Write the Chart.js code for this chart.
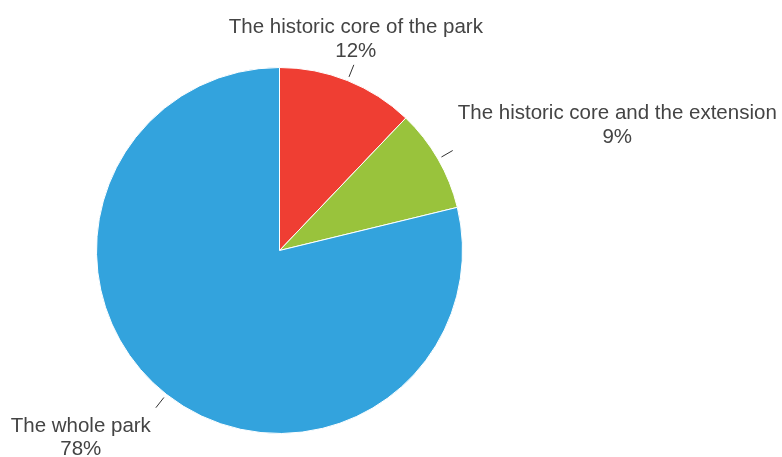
<!DOCTYPE html>
<html>
<head>
<meta charset="utf-8">
<script src="https://cdn.jsdelivr.net/npm/chart.js@4/dist/chart.umd.min.js"></script>
<style>
  html, body { margin: 0; padding: 0; background: #fff; }
  #wrap { width: 782px; height: 457px; }
</style>
</head>
<body>
<div id="wrap"><canvas id="pieChart" width="782" height="457"></canvas></div>
<script>
// Share of respondents by area visited
const areaLabels = [
  "The historic core of the park",
  "The historic core and the extension",
  "The whole park",
];
const areaShares = [12, 9, 78];
const areaColors = ["#ef3e33", "#99c33c", "#33a3dd"];

const labelFont = '20.5px "Liberation Sans", Arial, sans-serif';
const labelColor = "#444444";
const lineHeight = 23.5;

// Draws short leader ticks and two-line labels outside each slice
const outsideLabels = {
  id: "outsideLabels",
  afterDatasetsDraw(chart) {
    const ctx = chart.ctx;
    const arcs = chart.getDatasetMeta(0).data;
    ctx.save();
    ctx.font = labelFont;
    arcs.forEach((arc, i) => {
      const { x, y, startAngle, endAngle, outerRadius } = arc.getProps(
        ["x", "y", "startAngle", "endAngle", "outerRadius"],
        true
      );
      const mid = (startAngle + endAngle) / 2;
      const cos = Math.cos(mid);
      const sin = Math.sin(mid);
      const r1 = outerRadius + 4;
      const r2 = outerRadius + 17;
      const ex = x + cos * r2;
      const ey = y + sin * r2;

      // leader tick
      ctx.strokeStyle = "#333333";
      ctx.lineWidth = 1;
      ctx.beginPath();
      ctx.moveTo(x + cos * r1, y + sin * r1);
      ctx.lineTo(ex, ey);
      ctx.stroke();

      // label block
      const lines = [areaLabels[i], areaShares[i] + "%"];
      const blockW = Math.max(...lines.map((t) => ctx.measureText(t).width));
      let centerX;
      if (Math.abs(cos) < 0.5) {
        centerX = ex + 2;
      } else if (cos > 0) {
        centerX = ex + 5 + blockW / 2;
      } else {
        centerX = ex - 5 - blockW / 2;
      }
      let firstBaseline;
      if (sin < 0) {
        firstBaseline = ey - 8 - lineHeight * (lines.length - 1);
      } else {
        firstBaseline = ey + 24;
      }
      ctx.fillStyle = labelColor;
      ctx.textAlign = "center";
      ctx.textBaseline = "alphabetic";
      lines.forEach((t, j) => {
        ctx.fillText(t, centerX, firstBaseline + j * lineHeight);
      });
    });
    ctx.restore();
  },
};

new Chart(document.getElementById("pieChart"), {
  type: "pie",
  data: {
    labels: areaLabels,
    datasets: [
      {
        data: areaShares,
        backgroundColor: areaColors,
        borderColor: "#ffffff",
        borderWidth: 1,
      },
    ],
  },
  options: {
    responsive: false,
    animation: false,
    layout: {
      padding: { left: 96, right: 319, top: 67, bottom: 23 },
    },
    plugins: {
      legend: { display: false },
      tooltip: { enabled: false },
    },
  },
  plugins: [outsideLabels],
});
</script>
</body>
</html>
